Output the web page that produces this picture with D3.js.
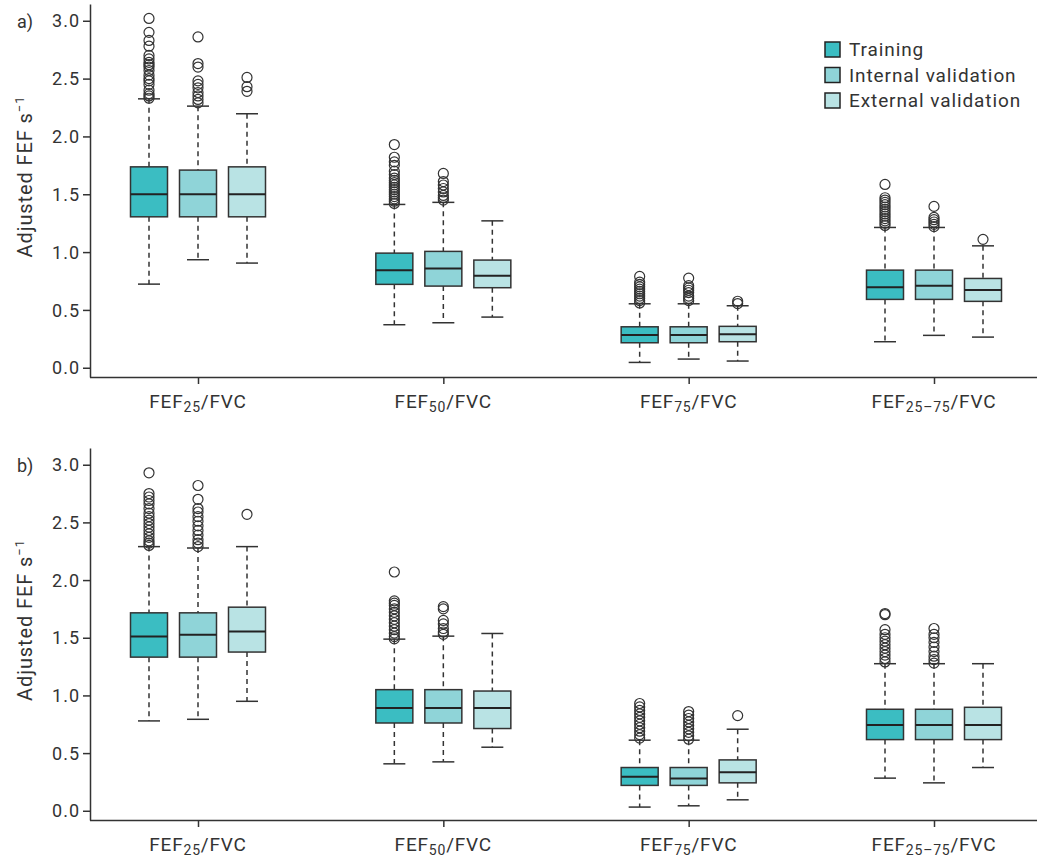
<!DOCTYPE html>
<html>
<head>
<meta charset="utf-8">
<script src="https://cdn.jsdelivr.net/npm/d3@7"></script>
<style>
  body { margin: 0; background: #fff; }
  text { font-family: Roboto, "Noto Sans", sans-serif; fill: #333; }
</style>
</head>
<body>
<div id="chart"></div>
<script>
// Setting up constants
const width = 1046;
const height = 858;

const categories = ["FEF25/FVC", "FEF50/FVC", "FEF75/FVC", "FEF25–75/FVC"];
const groups = ["Training", "Internal validation", "External validation"];
const colors = ["#3bbdc2", "#8fd4d8", "#b9e3e4"];
const yTicks = [0, 0.5, 1, 1.5, 2, 2.5, 3];

// box stats per category: [lower whisker, Q1, median, Q3, upper whisker]
const a_training = [[0.723, 1.305, 1.499, 1.737, 2.325], [0.372, 0.721, 0.844, 0.991, 1.412],
                    [0.046, 0.216, 0.283, 0.354, 0.553], [0.225, 0.591, 0.697, 0.844, 1.213]];
const a_internal = [[0.934, 1.305, 1.500, 1.709, 2.262], [0.389, 0.706, 0.859, 1.006, 1.430],
                    [0.075, 0.216, 0.283, 0.354, 0.553], [0.280, 0.591, 0.709, 0.844, 1.213]];
const a_external = [[0.905, 1.305, 1.500, 1.737, 2.196], [0.438, 0.692, 0.795, 0.931, 1.270],
                    [0.058, 0.225, 0.289, 0.358, 0.536], [0.265, 0.574, 0.672, 0.772, 1.054]];
const b_training = [[0.779, 1.332, 1.511, 1.716, 2.290], [0.407, 0.761, 0.891, 1.050, 1.488],
                    [0.032, 0.220, 0.294, 0.375, 0.612], [0.283, 0.617, 0.744, 0.880, 1.275]];
const b_internal = [[0.793, 1.332, 1.526, 1.716, 2.278], [0.424, 0.761, 0.891, 1.050, 1.514],
                    [0.043, 0.220, 0.280, 0.375, 0.612], [0.242, 0.617, 0.744, 0.880, 1.275]];
const b_external = [[0.949, 1.376, 1.555, 1.765, 2.290], [0.551, 0.713, 0.891, 1.038, 1.537],
                    [0.095, 0.242, 0.335, 0.441, 0.707], [0.375, 0.617, 0.744, 0.897, 1.275]];

// outliers per category
const a_training_out = [
  [3.02, 2.90, 2.83, 2.78, 2.70, 2.67, 2.64, 2.62, 2.60, 2.57, 2.53, 2.50, 2.48, 2.45, 2.40, 2.37, 2.35, 2.33],
  [1.93, 1.82, 1.78, 1.75, 1.70, 1.67, 1.64, 1.62, 1.60, 1.58, 1.56, 1.54, 1.52, 1.50, 1.48, 1.46, 1.44, 1.42],
  [0.79, 0.74, 0.72, 0.70, 0.68, 0.66, 0.64, 0.62, 0.60, 0.58, 0.56],
  [1.585, 1.47, 1.45, 1.43, 1.41, 1.39, 1.37, 1.35, 1.33, 1.31, 1.29, 1.27, 1.25, 1.23]];
const a_internal_out = [
  [2.86, 2.63, 2.60, 2.48, 2.45, 2.42, 2.38, 2.35, 2.32, 2.29],
  [1.68, 1.61, 1.58, 1.55, 1.52, 1.49, 1.47, 1.45],
  [0.775, 0.71, 0.69, 0.67, 0.65, 0.62, 0.60, 0.58],
  [1.395, 1.30, 1.28, 1.26, 1.24, 1.22]];
const a_external_out = [[2.51, 2.43, 2.39], [], [0.575, 0.555], [1.11]];
const b_training_out = [
  [2.93, 2.75, 2.72, 2.69, 2.66, 2.62, 2.58, 2.55, 2.52, 2.49, 2.46, 2.43, 2.40, 2.37, 2.34, 2.32, 2.30],
  [2.07, 1.82, 1.80, 1.78, 1.75, 1.72, 1.69, 1.66, 1.63, 1.60, 1.57, 1.54, 1.51, 1.49],
  [0.93, 0.90, 0.87, 0.84, 0.81, 0.78, 0.75, 0.72, 0.69, 0.66, 0.63],
  [1.71, 1.70, 1.57, 1.53, 1.50, 1.47, 1.44, 1.41, 1.38, 1.35, 1.32, 1.29]];
const b_internal_out = [
  [2.82, 2.70, 2.62, 2.59, 2.55, 2.51, 2.47, 2.43, 2.39, 2.35, 2.32, 2.29],
  [1.77, 1.75, 1.65, 1.62, 1.58, 1.55, 1.53],
  [0.86, 0.83, 0.80, 0.77, 0.74, 0.71, 0.68, 0.65, 0.62],
  [1.58, 1.53, 1.50, 1.46, 1.42, 1.38, 1.34, 1.31, 1.28]];
const b_external_out = [[2.57], [], [0.825], []];

const panels = [
  {label: "a)", top: 4, bottom: 377, stats: [a_training, a_internal, a_external],
   outs: [a_training_out, a_internal_out, a_external_out]},
  {label: "b)", top: 448, bottom: 820, stats: [b_training, b_internal, b_external],
   outs: [b_training_out, b_internal_out, b_external_out]}
];

const axisLeft = 90, axisRight = 1037;
const boxW = 37, capW = 22;

const svg = d3.select("#chart").append("svg")
  .attr("width", width).attr("height", height);

const X = d3.scalePoint().domain(categories).range([198, 934]);
const OFF = d3.scalePoint().domain(groups).range([-49, 49]);

// writes "FEF25/FVC" as FEF + subscript + /FVC
function catLabel(sel, c) {
  const m = c.match(/^FEF(.+)\/FVC$/);
  sel.append("tspan").text("FEF");
  sel.append("tspan").attr("font-size", 14).attr("dy", 4).text(m[1]);
  sel.append("tspan").attr("dy", -4).text("/FVC");
}

panels.forEach(p => {
  const Y = d3.scaleLinear().domain([-0.08, 3.145]).range([p.bottom, p.top]);
  const g = svg.append("g");

  // y axis
  const ya = g.append("g").attr("transform", `translate(${axisLeft},0)`)
    .call(d3.axisLeft(Y).tickValues(yTicks).tickFormat(d3.format(".1f")).tickSize(7).tickPadding(3).tickSizeOuter(0));
  // x axis
  const xa = g.append("g").attr("transform", `translate(0,${p.bottom})`)
    .call(d3.axisBottom(X).tickSize(7).tickSizeOuter(0).tickFormat(""));
  xa.select(".domain").attr("d", `M${axisLeft},0.5H${axisRight}`);
  [ya, xa].forEach(a => {
    a.selectAll(".domain, line").attr("stroke", "#333").attr("stroke-width", 1.5);
    a.selectAll("text").attr("font-size", 18).attr("fill", "#333")
      .attr("letter-spacing", 1).attr("dy", "0.34em")
      .style("font-family", "Roboto, sans-serif");
  });

  categories.forEach(c => {
    g.append("text").attr("x", X(c)).attr("y", p.bottom + 31)
      .attr("text-anchor", "middle").attr("font-size", 19).attr("letter-spacing", 0.8)
      .call(catLabel, c);
  });

  g.append("text").attr("x", 17).attr("y", Y(3) + 7).attr("font-size", 18).text(p.label);

  g.append("text")
    .attr("transform", `translate(32,${(p.top + p.bottom) / 2 - 14}) rotate(-90)`)
    .attr("text-anchor", "middle").attr("font-size", 20).attr("letter-spacing", 0.9)
    .text("Adjusted FEF s")
    .append("tspan").attr("dy", -8).attr("font-size", 13).text("−1");

  groups.forEach((grp, gi) => {
    const stats = p.stats[gi], outs = p.outs[gi];
    categories.forEach((c, ci) => {
      const [lo, q1, med, q3, hi] = stats[ci];
      const cx = X(c) + OFF(grp);
      const bg = g.append("g");
      // dashed whiskers
      bg.append("line").attr("x1", cx).attr("x2", cx).attr("y1", Y(hi)).attr("y2", Y(q3))
        .attr("stroke", "#333").attr("stroke-width", 1.5).attr("stroke-dasharray", "5,4");
      bg.append("line").attr("x1", cx).attr("x2", cx).attr("y1", Y(q1)).attr("y2", Y(lo))
        .attr("stroke", "#333").attr("stroke-width", 1.5).attr("stroke-dasharray", "5,4");
      // caps
      [lo, hi].forEach(v => {
        bg.append("line").attr("x1", cx - capW / 2).attr("x2", cx + capW / 2)
          .attr("y1", Y(v)).attr("y2", Y(v)).attr("stroke", "#333").attr("stroke-width", 1.5);
      });
      // box
      bg.append("rect").attr("x", cx - boxW / 2).attr("y", Y(q3))
        .attr("width", boxW).attr("height", Y(q1) - Y(q3))
        .attr("fill", colors[gi]).attr("stroke", "#333").attr("stroke-width", 1.5);
      bg.append("line").attr("x1", cx - boxW / 2).attr("x2", cx + boxW / 2)
        .attr("y1", Y(med)).attr("y2", Y(med)).attr("stroke", "#222").attr("stroke-width", 2);
      // outliers
      bg.selectAll("circle").data(outs[ci]).enter().append("circle")
        .attr("cx", cx).attr("cy", d => Y(d)).attr("r", 5)
        .attr("fill", "none").attr("stroke", "#333").attr("stroke-width", 1.2);
    });
  });
});

// legend (panel a only)
const leg = svg.append("g").attr("transform", "translate(825,42)");
groups.forEach((grp, i) => {
  leg.append("rect").attr("x", 0).attr("y", i * 25.5).attr("width", 15).attr("height", 15)
    .attr("fill", colors[i]).attr("stroke", "#222").attr("stroke-width", 1.5);
  leg.append("text").attr("x", 24).attr("y", i * 25.5 + 14).attr("font-size", 19)
    .attr("letter-spacing", 0.9).text(grp);
});
</script>
</body>
</html>
